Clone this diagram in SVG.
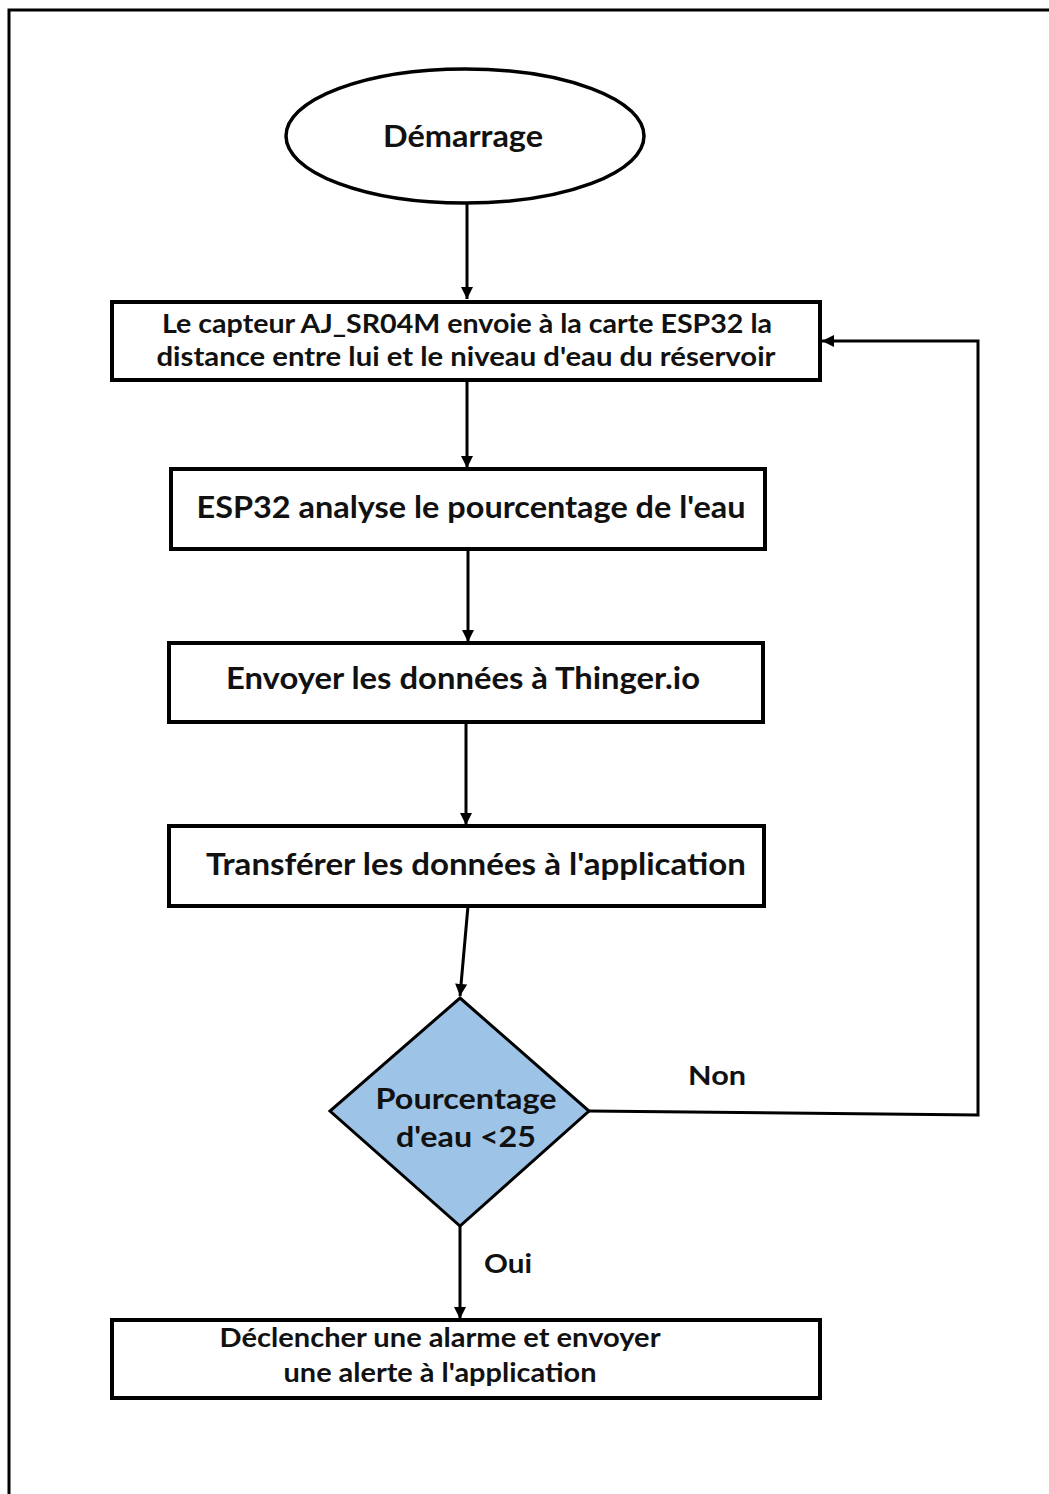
<svg xmlns="http://www.w3.org/2000/svg" width="1049" height="1494" viewBox="0 0 1049 1494">
  <defs>
    <marker id="arrow" viewBox="0 0 10 10" refX="10" refY="5" markerWidth="4.2" markerHeight="4" orient="auto" markerUnits="strokeWidth">
      <path d="M0,0 L10,5 L0,10 z" fill="#000"/>
    </marker>
    <style>
      .box { fill: #fff; stroke: #000; stroke-width: 4; }
      .dec { fill: #9dc3e6; stroke: #000; stroke-width: 3; }
      .edge { fill: none; stroke: #000; stroke-width: 3; }
      .lbl { font-family: "Lato", "Open Sans", "Liberation Sans", sans-serif; font-weight: 700; fill: #111; text-anchor: middle; }
    </style>
  </defs>
  <rect width="1049" height="1494" fill="#fff"/>
  <!-- page frame -->
  <path d="M9,1494 V10 H1049" fill="none" stroke="#000" stroke-width="3"/>

  <g id="connectors">
    <line class="edge" x1="467" y1="203" x2="467" y2="299" marker-end="url(#arrow)"/>
    <line class="edge" x1="467" y1="381" x2="467" y2="468" marker-end="url(#arrow)"/>
    <line class="edge" x1="468" y1="550" x2="468" y2="642" marker-end="url(#arrow)"/>
    <line class="edge" x1="466" y1="723" x2="466" y2="825" marker-end="url(#arrow)"/>
    <line class="edge" x1="468" y1="906" x2="460" y2="996" marker-end="url(#arrow)"/>
    <polyline class="edge" points="589,1111 978,1115 978,341 822,341" marker-end="url(#arrow)"/>
    <line class="edge" x1="460" y1="1226" x2="460" y2="1319" marker-end="url(#arrow)"/>
    <text class="lbl" x="717" y="1085" font-size="27" textLength="58" lengthAdjust="spacingAndGlyphs">Non</text>
    <text class="lbl" x="508" y="1273" font-size="27" textLength="48" lengthAdjust="spacingAndGlyphs">Oui</text>
  </g>

  <g id="start">
    <ellipse cx="465" cy="136" rx="179" ry="67" fill="#fff" stroke="#000" stroke-width="3.5"/>
    <text class="lbl" x="463" y="147" font-size="30" textLength="160" lengthAdjust="spacingAndGlyphs">Démarrage</text>
  </g>

  <g id="sensor">
    <rect class="box" x="112" y="302" width="708" height="78"/>
    <text class="lbl" x="467" y="333" font-size="26" textLength="610" lengthAdjust="spacingAndGlyphs">Le capteur AJ_SR04M envoie à la carte ESP32 la</text>
    <text class="lbl" x="466" y="366" font-size="26" textLength="619" lengthAdjust="spacingAndGlyphs">distance entre lui et le niveau d'eau du réservoir</text>
  </g>

  <g id="analyse">
    <rect class="box" x="171" y="469" width="594" height="80"/>
    <text class="lbl" x="471" y="518" font-size="30" textLength="549" lengthAdjust="spacingAndGlyphs">ESP32 analyse le pourcentage de l'eau</text>
  </g>

  <g id="send">
    <rect class="box" x="169" y="643" width="594" height="79"/>
    <text class="lbl" x="463" y="689" font-size="30" textLength="474" lengthAdjust="spacingAndGlyphs">Envoyer les données à Thinger.io</text>
  </g>

  <g id="transfer">
    <rect class="box" x="169" y="826" width="595" height="80"/>
    <text class="lbl" x="476" y="875" font-size="30" textLength="540" lengthAdjust="spacingAndGlyphs">Transférer les données à l'application</text>
  </g>

  <g id="decision">
    <polygon class="dec" points="460,998 589,1111 460,1226 330,1111"/>
    <text class="lbl" x="466" y="1109" font-size="29" textLength="181" lengthAdjust="spacingAndGlyphs">Pourcentage</text>
    <text class="lbl" x="466" y="1147" font-size="29" textLength="140" lengthAdjust="spacingAndGlyphs">d'eau &lt;25</text>
  </g>

  <g id="alarm">
    <rect class="box" x="112" y="1320" width="708" height="78"/>
    <text class="lbl" x="440" y="1347" font-size="26" textLength="441" lengthAdjust="spacingAndGlyphs">Déclencher une alarme et envoyer</text>
    <text class="lbl" x="440" y="1382" font-size="26" textLength="313" lengthAdjust="spacingAndGlyphs">une alerte à l'application</text>
  </g>
</svg>
